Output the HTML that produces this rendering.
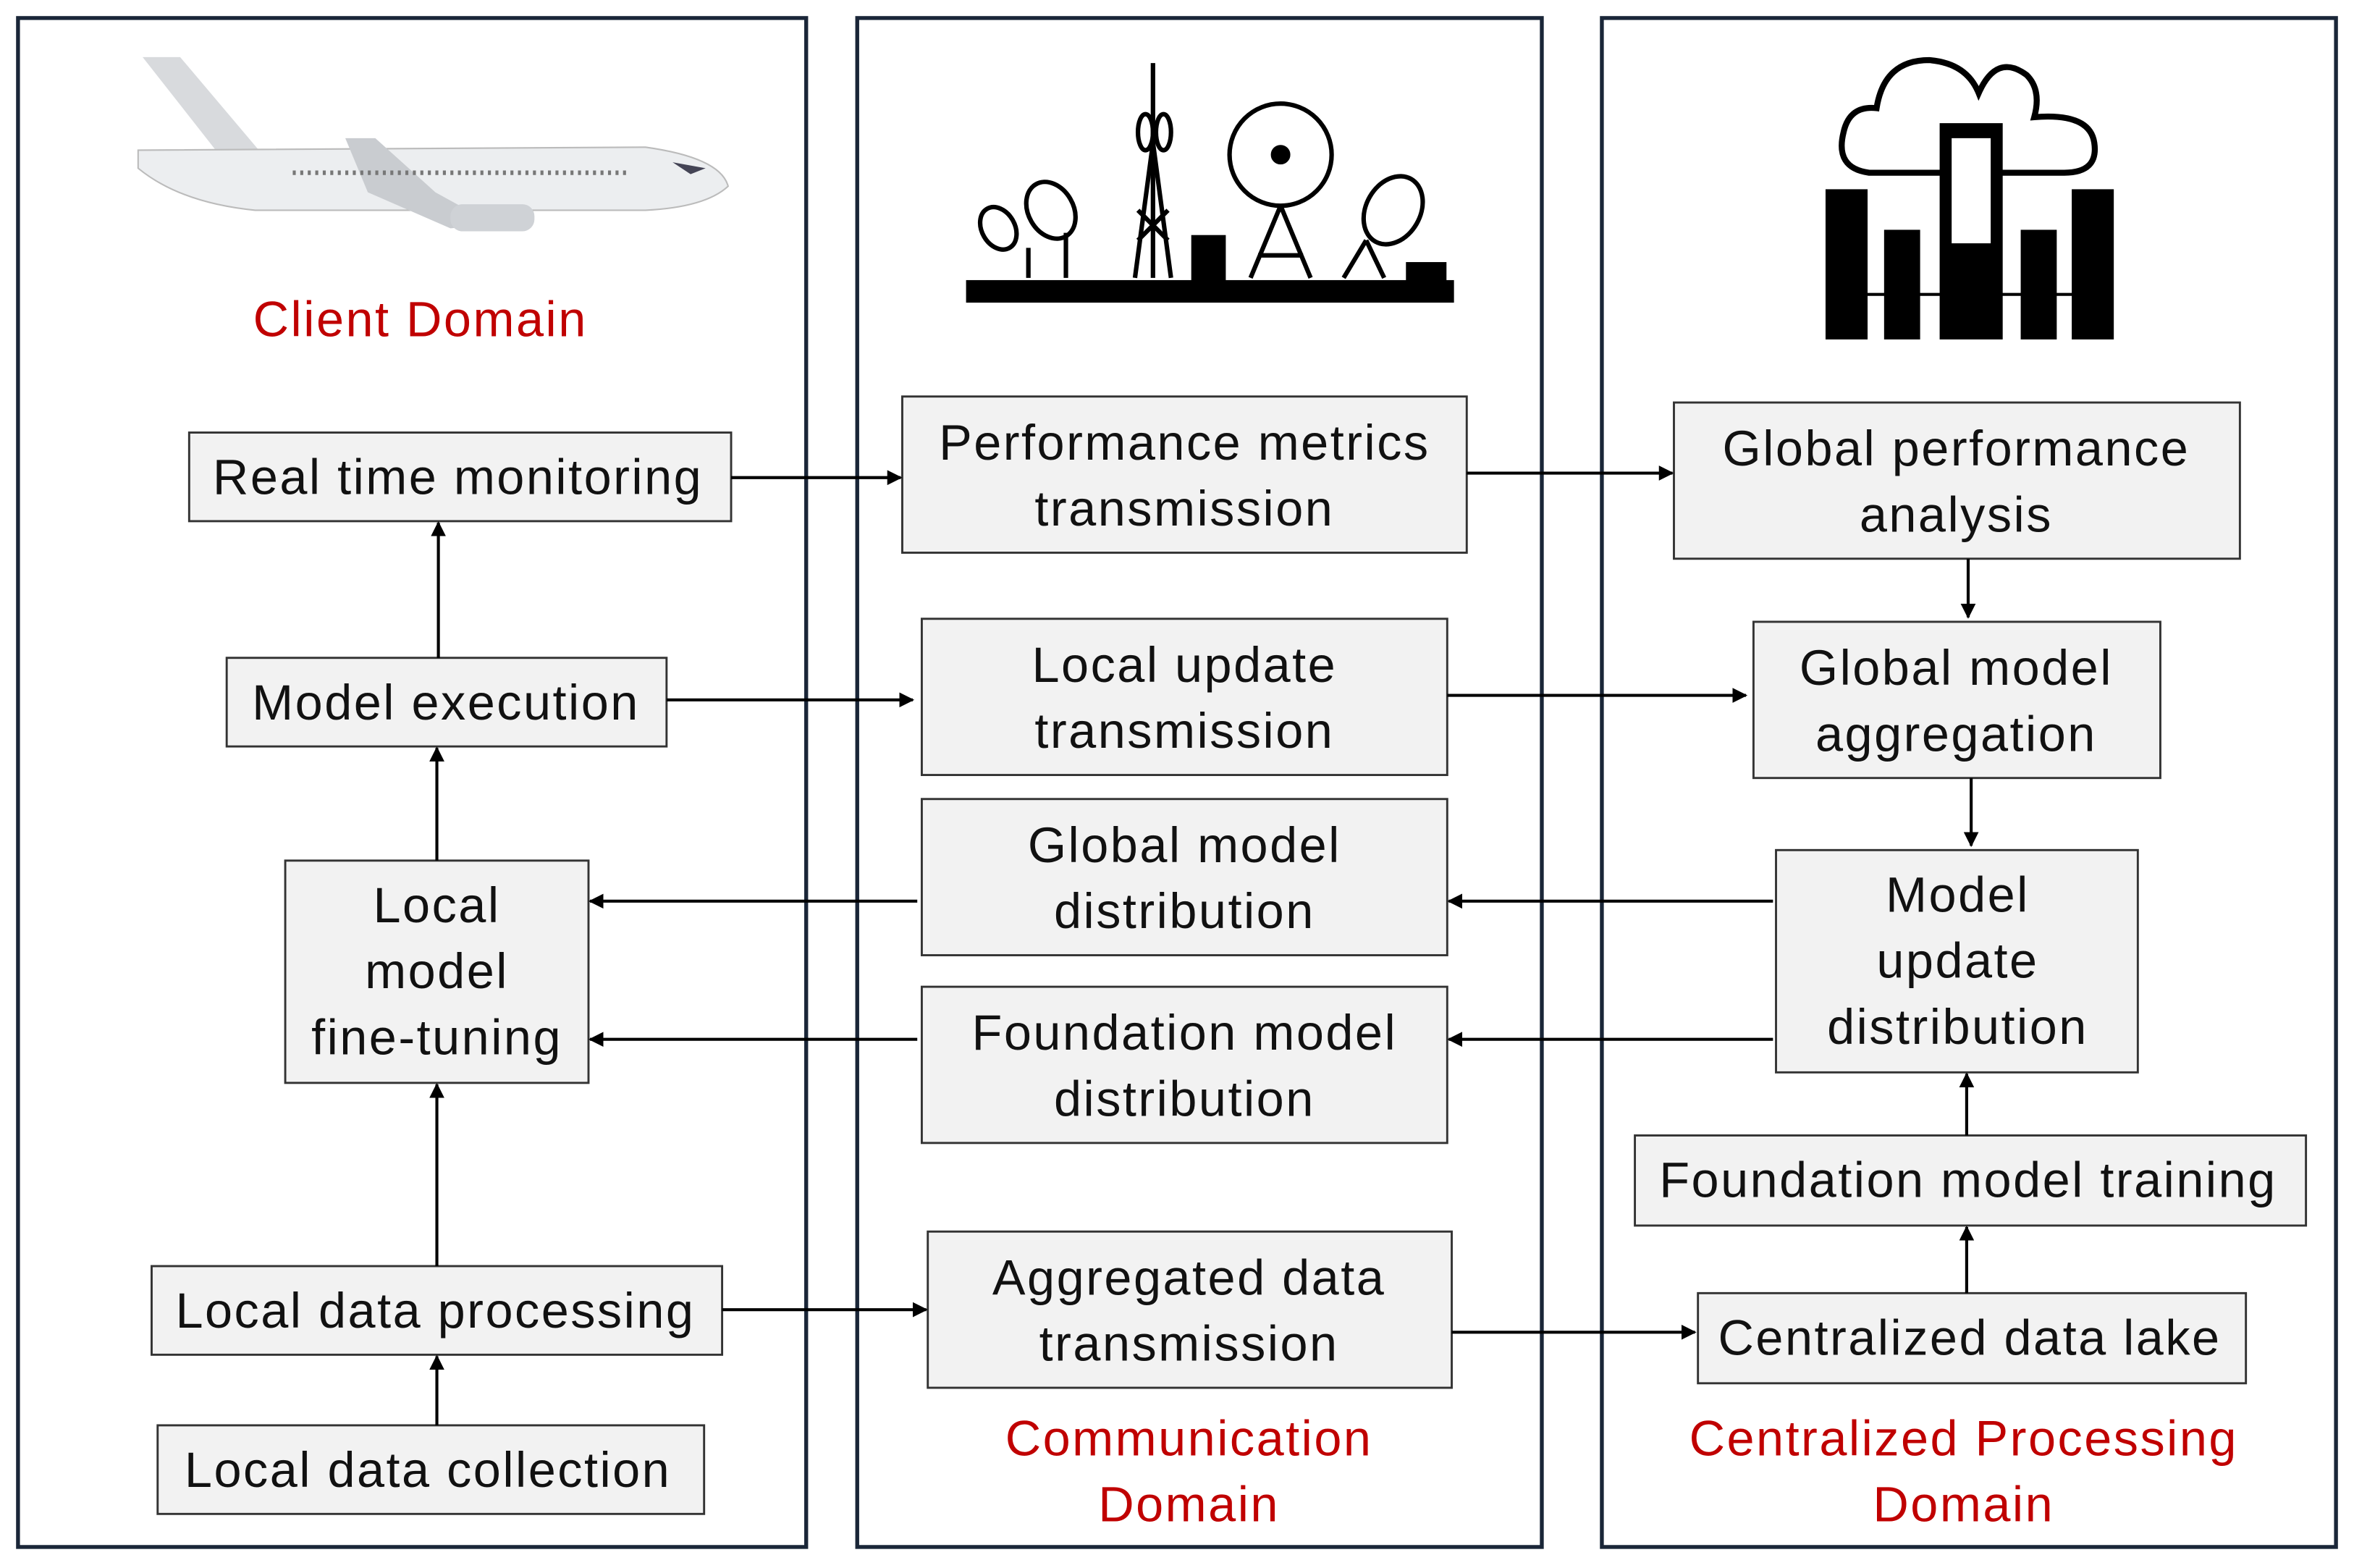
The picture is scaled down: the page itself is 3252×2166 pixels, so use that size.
<!DOCTYPE html>
<html><head><meta charset="utf-8"><style>
html,body{margin:0;padding:0;background:#fff;width:3252px;height:2166px;overflow:hidden}
svg{display:block}
text{font-family:"Liberation Sans","DejaVu Sans",sans-serif;font-size:33px;letter-spacing:1.2px;fill:#111;text-anchor:middle}
.r{fill:#c00000}
.b{fill:#f2f2f2;stroke:#333;stroke-width:1.4}
.p{fill:none;stroke:#1a2638;stroke-width:2.6}
.a{stroke:#000;stroke-width:2;fill:none;marker-end:url(#m)}
</style></head><body>
<svg width="3252" height="2166" viewBox="0 0 1568 1044" preserveAspectRatio="none">
<defs><marker id="m" markerWidth="10" markerHeight="10" refX="9" refY="5" orient="auto" markerUnits="userSpaceOnUse"><path d="M0,0 L10,5 L0,10 z" fill="#000"/></marker></defs>
<rect class="p" x="12" y="12" width="525" height="1018"/>
<rect class="p" x="571" y="12" width="456" height="1018"/>
<rect class="p" x="1067" y="12" width="489" height="1018"/>

<!-- airplane -->
<g>
<path d="M95,38 L120,38 L175,103 L150,108 Z" fill="#d8dadd"/>
<path d="M92,100 L430,98 Q480,105 485,124 Q470,138 430,140 L170,140 Q120,135 92,112 Z" fill="#eceef0" stroke="#bbb" stroke-width="1"/>
<path d="M230,92 L250,92 L290,128 L330,150 L300,152 L245,128 Z" fill="#c9ccd0"/>
<rect x="300" y="136" width="56" height="18" rx="8" fill="#cfd2d6"/>
<line x1="195" y1="115" x2="420" y2="115" stroke="#777" stroke-width="3" stroke-dasharray="2 3"/>
<path d="M448,108 L470,112 L460,116 Z" fill="#445"/>
</g>
<text class="r" x="280" y="224">Client Domain</text>

<!-- comm towers -->
<g fill="none" stroke="#000" stroke-width="3">
<rect x="645" y="188" width="322" height="12" fill="#000"/>
<line x1="768" y1="42" x2="768" y2="185"/>
<path d="M756,185 L768,95 L780,185 M758,160 L778,140 M758,140 L778,160"/>
<ellipse cx="763" cy="88" rx="5" ry="12"/><ellipse cx="775" cy="88" rx="5" ry="12"/>
<circle cx="853" cy="103" r="34"/><circle cx="853" cy="103" r="5" fill="#000"/>
<path d="M853,137 L833,185 M853,137 L873,185 M838,170 L868,170"/>
<ellipse cx="700" cy="140" rx="15" ry="20" transform="rotate(-30 700 140)"/>
<ellipse cx="665" cy="152" rx="11" ry="15" transform="rotate(-30 665 152)"/>
<line x1="710" y1="155" x2="710" y2="185"/><line x1="685" y1="165" x2="685" y2="185"/>
<ellipse cx="928" cy="140" rx="18" ry="24" transform="rotate(30 928 140)"/>
<path d="M910,160 L895,185 M910,160 L922,185"/>
<rect x="795" y="158" width="20" height="28" fill="#000"/>
<rect x="938" y="176" width="24" height="10" fill="#000"/>
</g>

<!-- cloud servers -->
<g stroke="#000" stroke-width="4" fill="#fff">
<path d="M1245,115 Q1222,112 1228,88 Q1232,70 1250,72 Q1255,40 1285,40 Q1310,42 1318,62 Q1330,35 1350,50 Q1360,60 1355,78 Q1392,75 1395,95 Q1398,115 1375,115 Z"/>
<rect x="1294" y="84" width="38" height="140" fill="#000"/>
<rect x="1300" y="92" width="26" height="70" fill="#fff" stroke="none"/>
<rect x="1218" y="128" width="24" height="96" fill="#000"/>
<rect x="1382" y="128" width="24" height="96" fill="#000"/>
<rect x="1257" y="155" width="20" height="69" fill="#000"/>
<rect x="1348" y="155" width="20" height="69" fill="#000"/>
<line x1="1242" y1="196" x2="1382" y2="196" stroke-width="2"/>
</g>

<!-- boxes -->
<rect class="b" x="126" y="288" width="361" height="59"/><text x="305" y="329">Real time monitoring</text>
<rect class="b" x="151" y="438" width="293" height="59"/><text x="297" y="479">Model execution</text>
<rect class="b" x="190" y="573" width="202" height="148"/><text x="291" y="614">Local</text><text x="291" y="658">model</text><text x="291" y="702">fine-tuning</text>
<rect class="b" x="101" y="843" width="380" height="59"/><text x="290" y="884">Local data processing</text>
<rect class="b" x="105" y="949" width="364" height="59"/><text x="285" y="990">Local data collection</text>

<rect class="b" x="601" y="264" width="376" height="104"/><text x="789" y="306">Performance metrics</text><text x="789" y="350">transmission</text>
<rect class="b" x="614" y="412" width="350" height="104"/><text x="789" y="454">Local update</text><text x="789" y="498">transmission</text>
<rect class="b" x="614" y="532" width="350" height="104"/><text x="789" y="574">Global model</text><text x="789" y="618">distribution</text>
<rect class="b" x="614" y="657" width="350" height="104"/><text x="789" y="699">Foundation model</text><text x="789" y="743">distribution</text>
<rect class="b" x="618" y="820" width="349" height="104"/><text x="792" y="862">Aggregated data</text><text x="792" y="906">transmission</text>
<text class="r" x="792" y="969">Communication</text><text class="r" x="792" y="1013">Domain</text>

<rect class="b" x="1115" y="268" width="377" height="104"/><text x="1303" y="310">Global performance</text><text x="1303" y="354">analysis</text>
<rect class="b" x="1168" y="414" width="271" height="104"/><text x="1303" y="456">Global model</text><text x="1303" y="500">aggregation</text>
<rect class="b" x="1183" y="566" width="241" height="148"/><text x="1304" y="607">Model</text><text x="1304" y="651">update</text><text x="1304" y="695">distribution</text>
<rect class="b" x="1089" y="756" width="447" height="60"/><text x="1311" y="797">Foundation model training</text>
<rect class="b" x="1131" y="861" width="365" height="60"/><text x="1312" y="902">Centralized data lake</text>
<text class="r" x="1308" y="969">Centralized Processing</text><text class="r" x="1308" y="1013">Domain</text>

<!-- arrows -->
<line class="a" x1="487" y1="318" x2="600" y2="318"/>
<line class="a" x1="977" y1="315" x2="1114" y2="315"/>
<line class="a" x1="1311" y1="372" x2="1311" y2="411"/>
<line class="a" x1="444" y1="466" x2="608" y2="466"/>
<line class="a" x1="964" y1="463" x2="1163" y2="463"/>
<line class="a" x1="1313" y1="518" x2="1313" y2="563"/>
<line class="a" x1="1181" y1="600" x2="965" y2="600"/>
<line class="a" x1="611" y1="600" x2="393" y2="600"/>
<line class="a" x1="1181" y1="692" x2="965" y2="692"/>
<line class="a" x1="611" y1="692" x2="393" y2="692"/>
<line class="a" x1="1310" y1="756" x2="1310" y2="715"/>
<line class="a" x1="1310" y1="861" x2="1310" y2="817"/>
<line class="a" x1="481" y1="872" x2="617" y2="872"/>
<line class="a" x1="967" y1="887" x2="1129" y2="887"/>
<line class="a" x1="291" y1="949" x2="291" y2="903"/>
<line class="a" x1="291" y1="843" x2="291" y2="722"/>
<line class="a" x1="291" y1="573" x2="291" y2="498"/>
<line class="a" x1="292" y1="438" x2="292" y2="348"/>
</svg>
</body></html>
